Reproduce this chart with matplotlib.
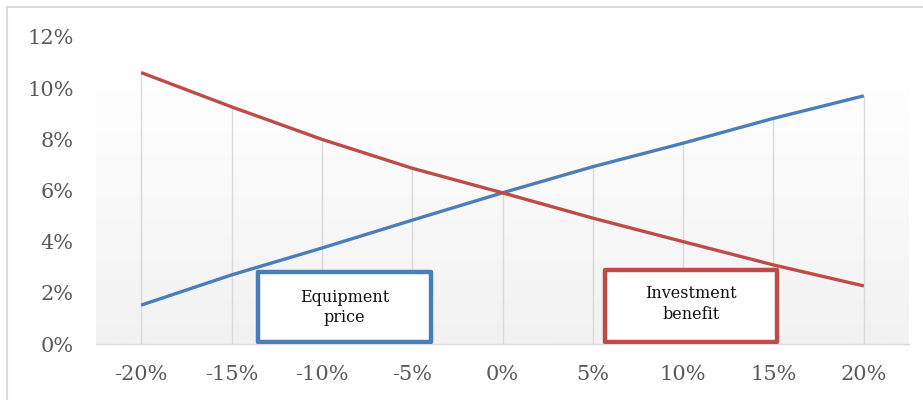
import numpy as np
import matplotlib
matplotlib.use("Agg")
import matplotlib.pyplot as plt
from matplotlib.patches import Rectangle
from matplotlib.ticker import PercentFormatter

# sensitivity values (percent)
categories = ["-20%", "-15%", "-10%", "-5%", "0%", "5%", "10%", "15%", "20%"]
equipment_price = [1.52, 2.70, 3.75, 4.84, 5.91, 6.93, 7.85, 8.82, 9.70]
investment_benefit = [10.61, 9.27, 8.00, 6.87, 5.91, 4.92, 4.00, 3.09, 2.27]

blue = "#4a7ebb"
red = "#be4b48"
font = "DejaVu Serif"

fig = plt.figure(figsize=(9.23, 4.0), dpi=100)
ax = fig.add_axes([96 / 923, 56 / 400, 813 / 923, 307 / 400])

x = np.arange(len(categories))

# soft gradient in the plot area (white at top -> light gray at bottom)
grad = np.linspace(1.0, 0.0, 256).reshape(-1, 1)
ax.imshow(grad, cmap=matplotlib.colors.LinearSegmentedColormap.from_list("g", ["#f2f2f2", "#ffffff"]),
          extent=[0, 1, 0, 0.89], transform=ax.transAxes, aspect="auto", zorder=0)

# drop lines from the higher series down to the axis
tops = np.maximum(equipment_price, investment_benefit)
ax.vlines(x, 0, tops, color="#d9d9d9", lw=1.0, zorder=1)

ax.plot(x, equipment_price, color=blue, lw=2.4, zorder=3, solid_capstyle="butt")
ax.plot(x, investment_benefit, color=red, lw=2.4, zorder=3, solid_capstyle="butt")

ax.set_xlim(-0.5, len(categories) - 0.5)
ax.set_ylim(0, 12)
ax.set_yticks(np.arange(0, 13, 2))
ax.yaxis.set_major_formatter(PercentFormatter(decimals=0))
ax.set_xticks(x)
ax.set_xticklabels(categories)

for s in ["top", "right", "left"]:
    ax.spines[s].set_visible(False)
ax.spines["bottom"].set_color("#d9d9d9")
ax.spines["bottom"].set_linewidth(1.0)
ax.tick_params(axis="both", length=0, labelcolor="#595959", labelsize=15)
ax.tick_params(axis="x", pad=15)
ax.tick_params(axis="y", pad=16)
for lab in ax.get_xticklabels() + ax.get_yticklabels():
    lab.set_fontfamily(font)
ax.set_facecolor("none")

# label boxes
for (x0, x1, y1, ty, txt, col) in [(0.199, 0.412, 0.2345, 0.12, "Equipment\nprice", blue),
                                   (0.626, 0.838, 0.241, 0.13, "Investment\nbenefit", red)]:
    ax.add_patch(Rectangle((x0, 0.006), x1 - x0, y1 - 0.006, transform=ax.transAxes,
                           facecolor="white", edgecolor=col, lw=3.2, zorder=5,
                           joinstyle="round"))
    ax.text((x0 + x1) / 2, ty, txt, transform=ax.transAxes, ha="center", va="center",
            fontsize=11.5, family=font, color="#111111", zorder=6, linespacing=1.25)

# outer chart frame
fig.patches.append(Rectangle((7 / 923, -0.1), 1.2, (393 / 400) + 0.1, transform=fig.transFigure,
                             fill=False, edgecolor="#d9d9d9", lw=1.5))

fig.savefig("out.png", dpi=100, facecolor="white")
